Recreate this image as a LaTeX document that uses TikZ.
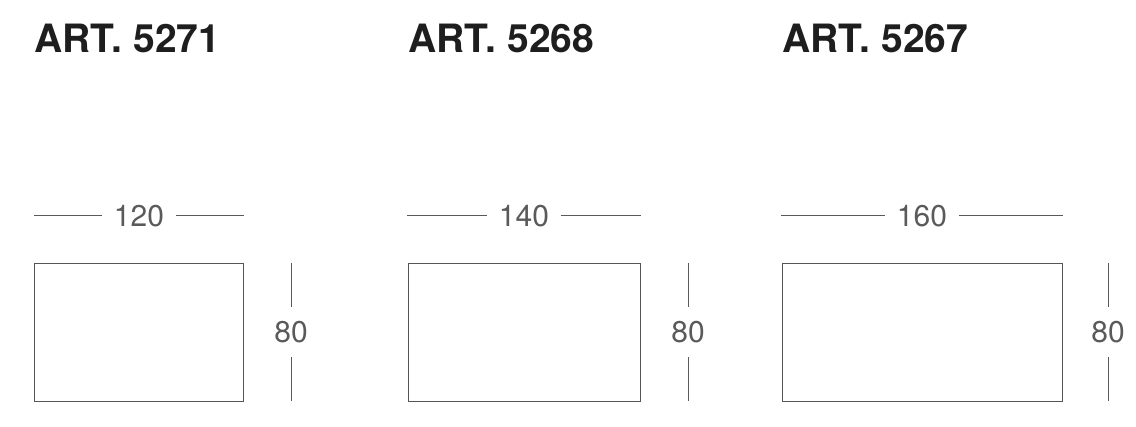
\documentclass[tikz,border=0pt]{standalone}
\usepackage{fontspec}
\setmainfont{TeX Gyre Heros}
\usetikzlibrary{positioning}
\definecolor{inkdark}{HTML}{1E1E1E}
\definecolor{linegray}{HTML}{555555}
\definecolor{dimgray}{HTML}{5A5A5A}
\tikzset{
  title/.style={anchor=base west, inner sep=0pt, text=inkdark, font=\fontsize{39}{39}\selectfont\bfseries},
  tabletop/.style={draw=linegray, line width=1.3pt, inner sep=0pt, anchor=north west},
  dimlabel/.style={text=dimgray, font=\fontsize{30}{30}\selectfont, inner ysep=0pt, inner xsep=11.5pt},
  vdimlabel/.style={text=dimgray, font=\fontsize{30}{30}\selectfont, inner xsep=0pt, inner ysep=14pt},
  dimline/.style={draw=dimgray, line width=1pt}
}
\begin{document}
\begin{tikzpicture}[x=1pt,y=-1pt]
\useasboundingbox (0,0) rectangle (1136,427);
%========================================
% LEFT: ART. 5271 (120 x 80)
%========================================
\begin{scope}[shift={(34,0)}]
	\node[title] (art1) at (0,53) {ART. 5271};
	% Table top
	\node[tabletop, minimum width=209pt, minimum height=138pt] (top1) at (0,263) {};
	% Width
	\node[dimlabel] (w1) at (105,216) {120};
	\coordinate (w1l) at (0,216);
	\coordinate (w1r) at (210,216);
	\draw[dimline] (w1l) -- (w1.west);
	\draw[dimline] (w1.east) -- (w1r);
	% Depth
	\node[vdimlabel] (d1) at (257,332) {80};
	\coordinate (d1t) at (257,263);
	\coordinate (d1b) at (257,401);
	\draw[dimline] (d1t) -- (d1.north);
	\draw[dimline] (d1.south) -- (d1b);
\end{scope}
%========================================
% MIDDLE: ART. 5268 (140 x 80)
%========================================
\begin{scope}[shift={(408,0)}]
	\node[title] (art2) at (0,53) {ART. 5268};
	% Table top
	\node[tabletop, minimum width=232pt, minimum height=138pt] (top2) at (0,263) {};
	% Width
	\node[dimlabel] (w2) at (116,216) {140};
	\coordinate (w2l) at (-1,216);
	\coordinate (w2r) at (233,216);
	\draw[dimline] (w2l) -- (w2.west);
	\draw[dimline] (w2.east) -- (w2r);
	% Depth
	\node[vdimlabel] (d2) at (280,332) {80};
	\coordinate (d2t) at (280,263);
	\coordinate (d2b) at (280,401);
	\draw[dimline] (d2t) -- (d2.north);
	\draw[dimline] (d2.south) -- (d2b);
\end{scope}
%========================================
% RIGHT: ART. 5267 (160 x 80)
%========================================
\begin{scope}[shift={(782,0)}]
	\node[title] (art3) at (0,53) {ART. 5267};
	% Table top
	\node[tabletop, minimum width=280pt, minimum height=138pt] (top3) at (0,263) {};
	% Width
	\node[dimlabel] (w3) at (140,216) {160};
	\coordinate (w3l) at (-1,216);
	\coordinate (w3r) at (281,216);
	\draw[dimline] (w3l) -- (w3.west);
	\draw[dimline] (w3.east) -- (w3r);
	% Depth
	\node[vdimlabel] (d3) at (326,332) {80};
	\coordinate (d3t) at (326,263);
	\coordinate (d3b) at (326,401);
	\draw[dimline] (d3t) -- (d3.north);
	\draw[dimline] (d3.south) -- (d3b);
\end{scope}
\end{tikzpicture}
\end{document}
